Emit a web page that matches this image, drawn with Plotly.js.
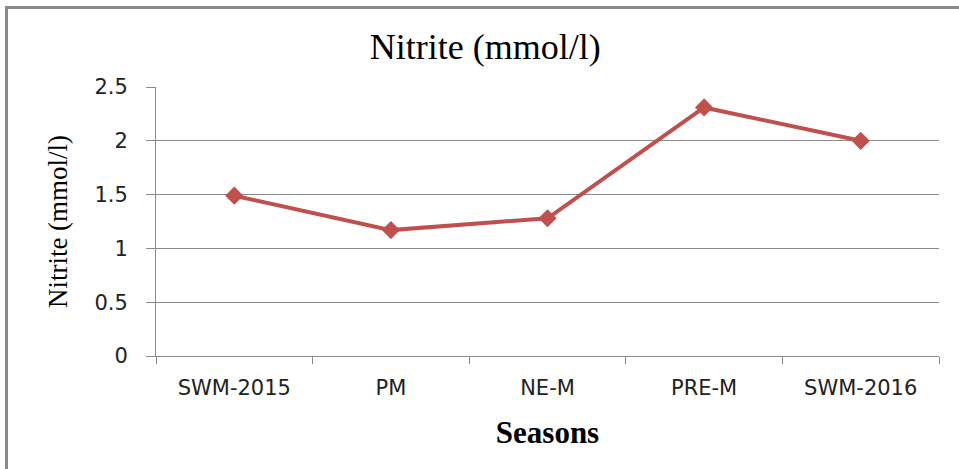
<!DOCTYPE html>
<html>
<head>
<meta charset="utf-8">
<script src="https://cdn.plot.ly/plotly-3.0.1.min.js"></script>
<style>
  html, body { margin: 0; padding: 0; background: #fff; }
  #wrap { position: relative; width: 959px; height: 469px; overflow: hidden; }
  #chart { width: 959px; height: 469px; }
  #frame { position: absolute; left: 5px; top: 6px; width: 1000px; height: 500px;
           border-top: 3px solid #8a8a8a; border-left: 3px solid #8a8a8a; pointer-events: none; }
</style>
</head>
<body>
<div id="wrap">
  <div id="chart"></div>
  <div id="frame"></div>
</div>
<script>
const seasons = ["SWM-2015", "PM", "NE-M", "PRE-M", "SWM-2016"];
const nitrite = [1.49, 1.17, 1.28, 2.31, 2.0];
const yTickVals = [0, 0.5, 1, 1.5, 2, 2.5];
const yTickText = ["0", "0.5", "1", "1.5", "2", "2.5"];

const trace = {
  x: seasons,
  y: nitrite,
  type: "scatter",
  mode: "lines+markers",
  line: { color: "#c0504d", width: 4 },
  marker: { symbol: "diamond", size: 14, color: "#c0504d" },
  hoverinfo: "x+y"
};

const layout = {
  width: 959,
  height: 469,
  margin: { l: 156, r: 20, t: 87, b: 113 },
  paper_bgcolor: "#ffffff",
  plot_bgcolor: "#ffffff",
  showlegend: false,
  title: {
    text: "Nitrite (mmol/l)",
    font: { family: "Liberation Serif, Times New Roman, serif", size: 36, color: "#000" },
    x: 0.506, xref: "container", xanchor: "center",
    y: 0.902, yref: "container", yanchor: "middle"
  },
  xaxis: {
    type: "category",
    range: [-0.5, 4.5],
    showgrid: false,
    showline: true,
    linecolor: "#8a8a8a",
    linewidth: 1,
    ticks: "outside",
    tickson: "boundaries",
    ticklen: 7,
    tickcolor: "#8a8a8a",
    ticklabelstandoff: 13,
    tickfont: { family: "DejaVu Sans, sans-serif", size: 21, color: "#222" },
    title: {
      text: "<b>Seasons</b>",
      font: { family: "Liberation Serif, Times New Roman, serif", size: 31, color: "#000" },
      standoff: 22
    },
    zeroline: false,
    fixedrange: true
  },
  yaxis: {
    range: [0, 2.5],
    tickvals: yTickVals,
    ticktext: yTickText,
    showgrid: true,
    gridcolor: "#8a8a8a",
    gridwidth: 1,
    showline: true,
    linecolor: "#8a8a8a",
    linewidth: 1,
    ticks: "outside",
    ticklen: 9,
    tickcolor: "#8a8a8a",
    ticklabelstandoff: 14,
    tickfont: { family: "DejaVu Sans, sans-serif", size: 21, color: "#222" },
    title: {
      text: "Nitrite (mmol/l)",
      font: { family: "Liberation Serif, Times New Roman, serif", size: 27, color: "#000" },
      standoff: 18
    },
    zeroline: false,
    fixedrange: true
  }
};

Plotly.newPlot("chart", [trace], layout, { displayModeBar: false, staticPlot: true });
</script>
</body>
</html>
